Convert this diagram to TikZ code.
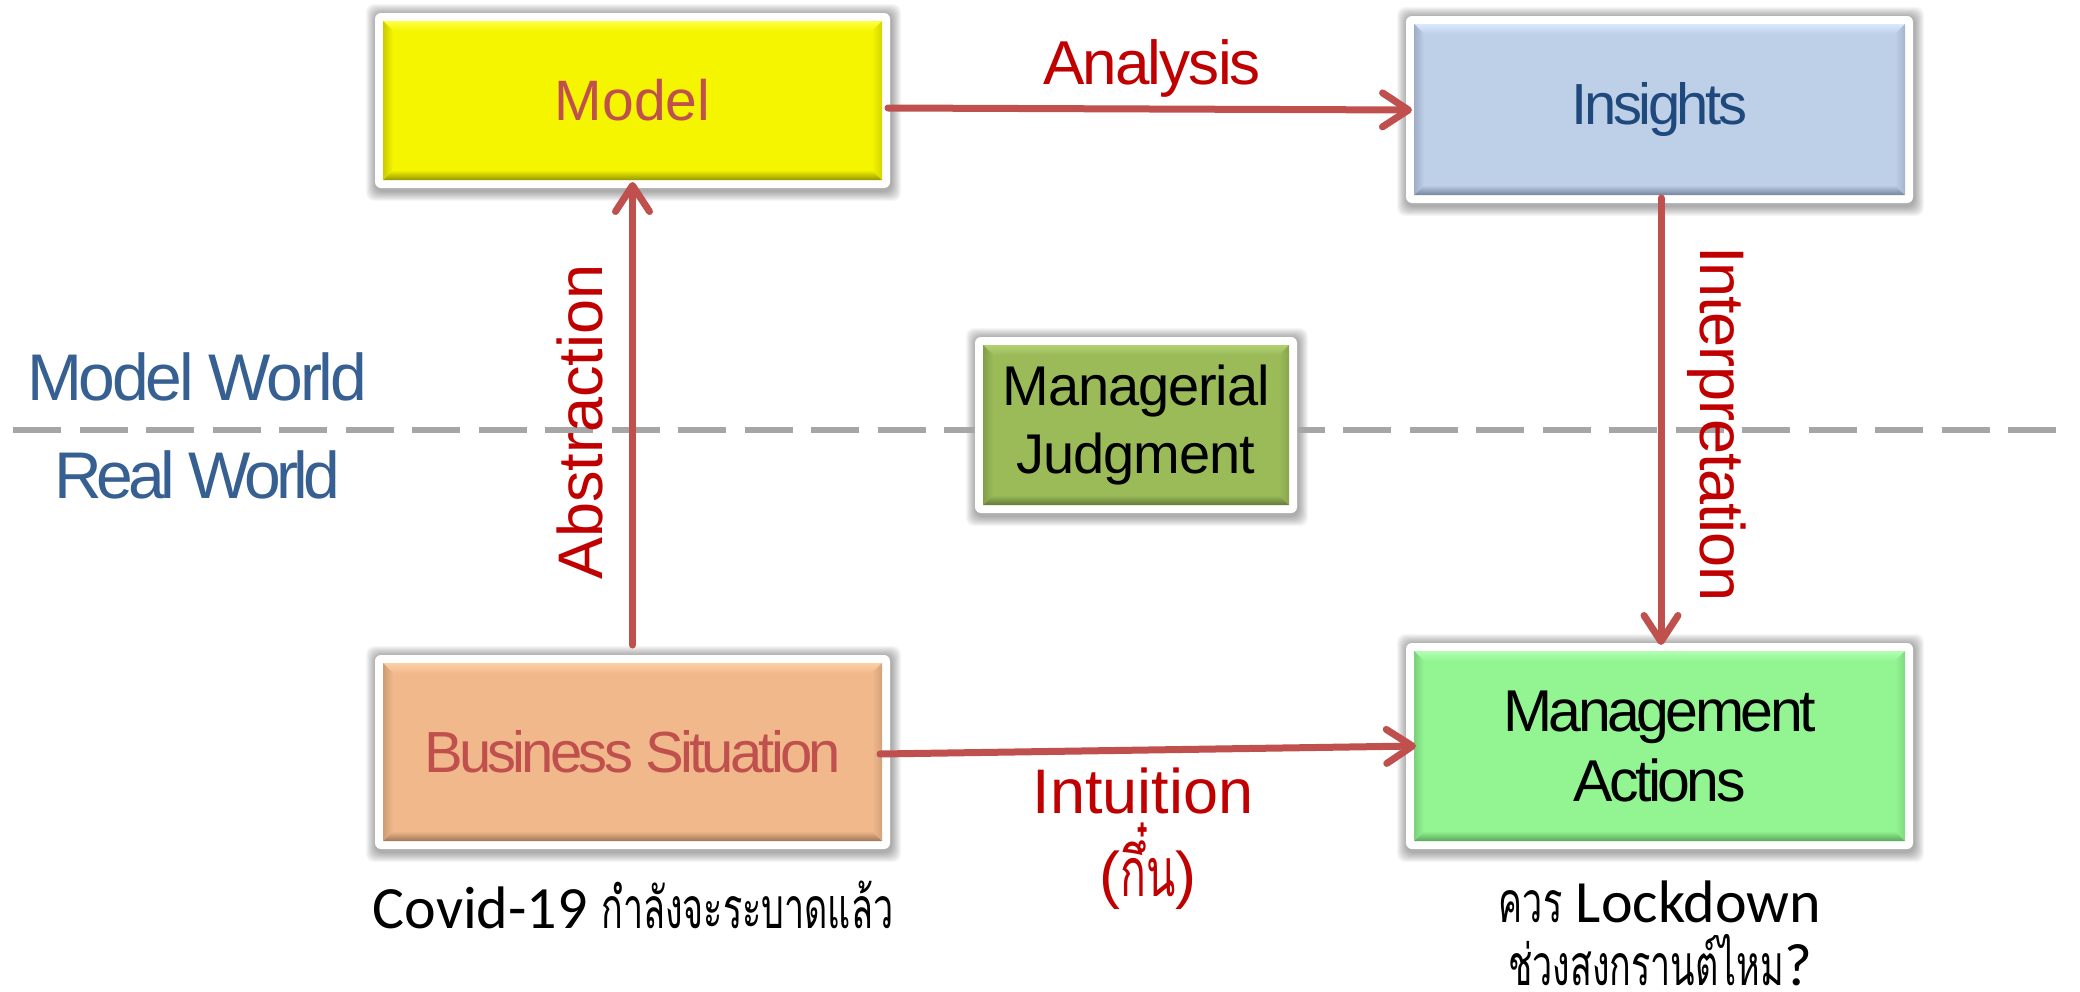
\documentclass[tikz,border=0pt]{standalone}
\usepackage{fontspec}
\setmainfont{Liberation Sans}
\newfontfamily\thaifont[Script=Thai, FakeStretch=0.63]{Loma}
\newfontfamily\calibfont{Carlito}
\usetikzlibrary{arrows.meta,calc}
\pgfdeclarelayer{paper}
\pgfdeclarelayer{bg}
\pgfsetlayers{paper,bg,main}
\definecolor{arrowred}{HTML}{C0504D}
\definecolor{labred}{HTML}{C00000}
\definecolor{insblue}{HTML}{1F497D}
\definecolor{worldblue}{RGB}{55,96,146}
\definecolor{dashgray}{HTML}{A6A6A6}
\definecolor{modelF}{RGB}{245,245,0}\definecolor{modelL}{RGB}{255,255,70}\definecolor{modelD}{RGB}{150,150,0}
\definecolor{insF}{RGB}{190,208,232}\definecolor{insL}{RGB}{218,234,252}\definecolor{insD}{RGB}{115,132,155}
\definecolor{mjF}{RGB}{155,187,89}\definecolor{mjL}{RGB}{178,208,112}\definecolor{mjD}{RGB}{98,122,56}
\definecolor{bsF}{RGB}{241,185,139}\definecolor{bsL}{RGB}{252,208,165}\definecolor{bsD}{RGB}{160,118,88}
\definecolor{maF}{RGB}{146,245,146}\definecolor{maL}{RGB}{178,255,178}\definecolor{maD}{RGB}{92,165,92}
\tikzset{
  bevelbox/.style n args={3}{fill=white, rounded corners=6bp, inner sep=0pt, outer sep=0pt, align=center,
    path picture={
      \begin{scope}[sharp corners]
        \coordinate (SW) at ($(path picture bounding box.south west)+(8,-8)$);
        \coordinate (NE) at ($(path picture bounding box.north east)+(-8,8)$);
        \coordinate (NW) at (SW |- NE);
        \coordinate (SE) at (NE |- SW);
        \fill[#1] (SW) rectangle (NE);
        \shade[top color=#2, bottom color=#1] (NW) -- (NE) -- ($(NE)+(-10,10)$) -- ($(NW)+(10,10)$) -- cycle;
        \shade[top color=#1, bottom color=#3] (SW) -- (SE) -- ($(SE)+(-10,-10)$) -- ($(SW)+(10,-10)$) -- cycle;
        \shade[left color=#3!45!#1, right color=#1] (SW) -- (NW) -- ($(NW)+(10,10)$) -- ($(SW)+(10,-10)$) -- cycle;
        \shade[left color=#1, right color=#3!35!#1] (SE) -- (NE) -- ($(NE)+(-10,10)$) -- ($(SE)+(-10,-10)$) -- cycle;
      \end{scope}
    }},
  arr/.style={draw=arrowred, line width=7bp, line cap=round,
    -{Straight Barb[length=26bp, width=34bp, round]}},
  labtxt/.style={text=labred, inner sep=0pt, font=\fontsize{63bp}{75bp}\selectfont},
  worldtxt/.style={text=worldblue, inner sep=0pt, anchor=base, font=\fontsize{66bp}{78bp}\selectfont\addfontfeature{LetterSpace=-5}},
  captxt/.style={inner sep=0pt, anchor=base, font=\fontsize{60bp}{72bp}\calibfont},
  divider/.style={draw=dashgray, line width=6bp, dash pattern=on 48bp off 18.5bp}
}
\newcommand{\thaitxt}[1]{{\thaifont\fontsize{57bp}{68bp}\selectfont #1}}
\begin{document}
\begin{tikzpicture}[x=1bp,y=-1bp]
\useasboundingbox (0,0) rectangle (2080,992);
\begin{pgfonlayer}{paper}
  \fill[white] (0,0) rectangle (2080,992);
\end{pgfonlayer}

% divider
\draw[divider] (13,430) -- (2070,430);

% boxes
\node[bevelbox={modelF}{modelL}{modelD}, minimum width=515bp, minimum height=175bp,
  text=arrowred, font=\fontsize{57bp}{68bp}\selectfont] (model) at (632.5,100.5) {Model};
\node[bevelbox={insF}{insL}{insD}, minimum width=507bp, minimum height=187bp,
  text=insblue, font=\fontsize{58bp}{70bp}\selectfont\addfontfeature{LetterSpace=-6}] (insights) at (1659.5,109.5) {Insights};
\node[bevelbox={mjF}{mjL}{mjD}, minimum width=322bp, minimum height=176bp,
  text=black, font=\fontsize{56bp}{68bp}\selectfont\addfontfeature{LetterSpace=-2}] (mj) at (1136,425) {Managerial\\Judgment};
\node[bevelbox={bsF}{bsL}{bsD}, minimum width=515bp, minimum height=194bp,
  text=arrowred, font=\fontsize{58bp}{70bp}\selectfont\addfontfeature{LetterSpace=-6.5}] (bs) at (632.5,752) {Business Situation};
\node[bevelbox={maF}{maL}{maD}, minimum width=507bp, minimum height=206bp,
  text=black, font=\fontsize{59bp}{70bp}\selectfont\addfontfeature{LetterSpace=-6}] (ma) at (1659.5,746) {Management\\Actions};

% soft shadows behind the white frames
\begin{pgfonlayer}{bg}
  \foreach \n in {model,insights,mj,bs,ma}{
    \foreach \i in {1,...,10}{
      \fill[black, opacity=0.035, rounded corners=8bp]
        ($(\n.south west)+(-\i+1,\i+3)$) rectangle ($(\n.north east)+(\i+1,-\i+1)$);
    }
  }
\end{pgfonlayer}

% world labels
\node[worldtxt] (mw) at (197,400) {Model World};
\node[worldtxt, font=\fontsize{66bp}{78bp}\selectfont\addfontfeature{LetterSpace=-7.5}] (rw) at (197,498) {Real World};

% connectors
\draw[arr] ($(model.east)+(-2,7.5)$) -- ($(insights.west)+(6,0.5)$);
\draw[arr] ($(bs.north)+(0,-10)$) -- ($(model.south)+(0,-6)$);
\draw[arr] ($(insights.south)+(1.5,-5)$) -- ($(ma.north)+(1.5,2)$);
\draw[arr] ($(bs.east)+(-10,2)$) -- ($(ma.west)+(10,0)$);

% connector labels
\node[labtxt, anchor=base, font=\fontsize{62bp}{74bp}\selectfont\addfontfeature{LetterSpace=-3}] (anl) at (1152,84) {Analysis};
\node[labtxt, anchor=base, rotate=90] (abl) at (602,422) {Abstraction};
\node[labtxt, anchor=base, rotate=-90, font=\fontsize{63bp}{75bp}\selectfont\addfontfeature{LetterSpace=-2}] (inl) at (1700,424) {Interpretation};
\node[labtxt, anchor=base] (itl) at (1143,813) {Intuition};
\node[labtxt, anchor=base] (kl) at (1148,896) {({\thaifont\fontsize{68bp}{78bp}\selectfont กึ๋น})};

% captions
\node[captxt] (cov) at (633,928) {Covid-19 \thaitxt{กำลังจะระบาดแล้ว}};
\node[captxt] (q1) at (1660,922) {\thaitxt{ควร} Lockdown};
\node[captxt] (q2) at (1660,985) {\thaitxt{ช่วงสงกรานต์ไหม}?};
\end{tikzpicture}
\end{document}
